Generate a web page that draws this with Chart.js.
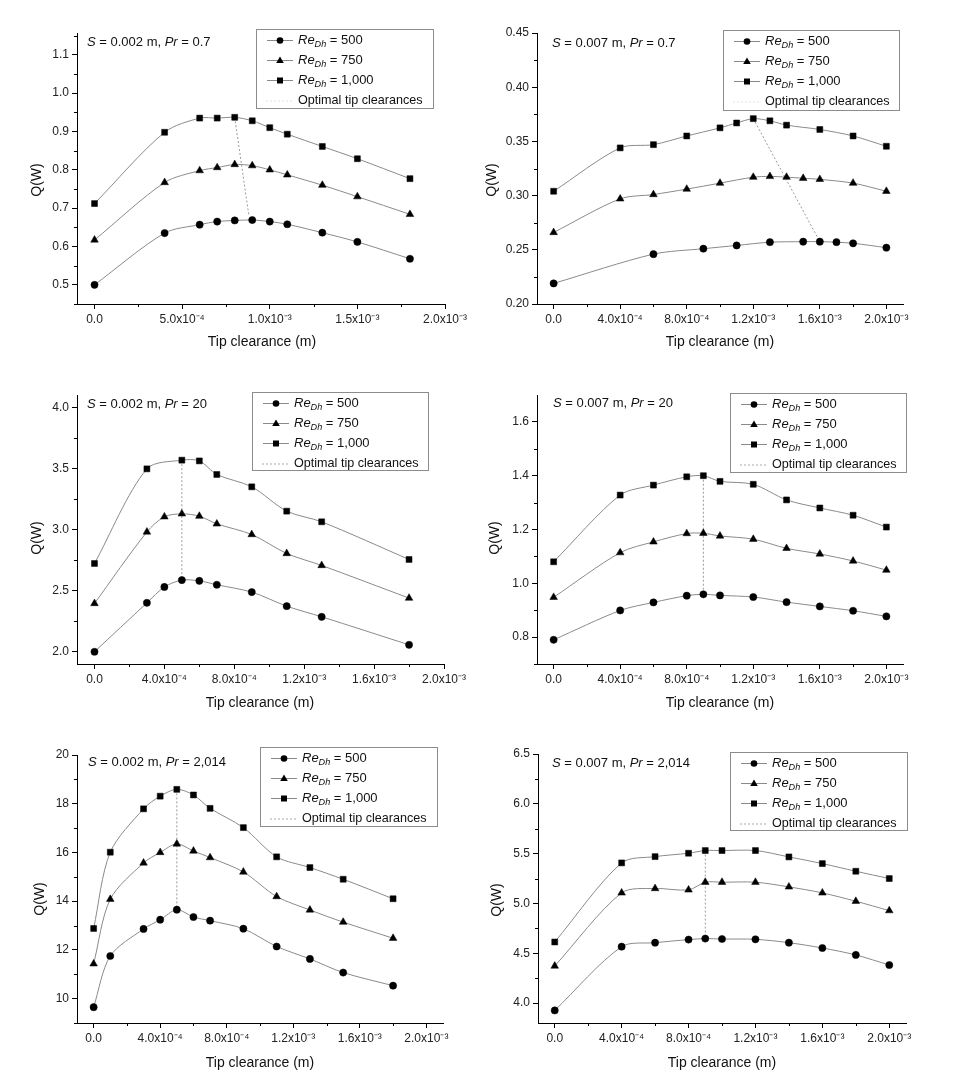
<!DOCTYPE html>
<html><head><meta charset="utf-8">
<script src="https://cdn.jsdelivr.net/npm/chart.js@4/dist/chart.umd.min.js"></script>
<style>
html,body{margin:0;padding:0;background:#fff;}
body{width:969px;height:1078px;position:relative;overflow:hidden;}
canvas{position:absolute;}
</style>
</head><body>
<canvas id="c1"></canvas><canvas id="c2"></canvas><canvas id="c3"></canvas>
<canvas id="c4"></canvas><canvas id="c5"></canvas><canvas id="c6"></canvas>
<script>
// ---------- DATA ----------
const seriesNames = ["500", "750", "1,000"];
const optimalLabel = "Optimal tip clearances";

// Panel 1: S = 0.002 m, Pr = 0.7
const p1X = [0, 0.0004, 0.0006, 0.0007, 0.0008, 0.0009, 0.0010, 0.0011, 0.0013, 0.0015, 0.0018];
const p1Q500 = [0.500, 0.635, 0.657, 0.665, 0.668, 0.669, 0.665, 0.658, 0.636, 0.612, 0.568];
const p1Q750 = [0.617, 0.767, 0.798, 0.806, 0.814, 0.811, 0.800, 0.787, 0.760, 0.730, 0.684];
const p1Q1000 = [0.712, 0.898, 0.935, 0.935, 0.937, 0.928, 0.910, 0.893, 0.861, 0.829, 0.777];
const p1OptX = [0.0008, 0.00088];
const p1OptY = [0.937, 0.683];

// Panel 2: S = 0.007 m, Pr = 0.7
const p2X500 = [0, 0.0006, 0.0009, 0.0011, 0.0013, 0.0015, 0.0016, 0.0017, 0.0018, 0.0020];
const p2Q500 = [0.219, 0.246, 0.251, 0.254, 0.257, 0.2575, 0.2575, 0.257, 0.256, 0.252];
const p2X750 = [0, 0.0004, 0.0006, 0.0008, 0.0010, 0.0012, 0.0013, 0.0014, 0.0015, 0.0016, 0.0018, 0.0020];
const p2Q750 = [0.266, 0.297, 0.301, 0.306, 0.3115, 0.317, 0.3177, 0.317, 0.316, 0.315, 0.3115, 0.304];
const p2X1000 = [0, 0.0004, 0.0006, 0.0008, 0.0010, 0.0011, 0.0012, 0.0013, 0.0014, 0.0016, 0.0018, 0.0020];
const p2Q1000 = [0.304, 0.344, 0.347, 0.355, 0.3625, 0.367, 0.371, 0.369, 0.365, 0.361, 0.355, 0.3455];
const p2OptX = [0.0012, 0.0016];
const p2OptY = [0.371, 0.2575];

// Panel 3: S = 0.002 m, Pr = 20
const p3X = [0, 0.0003, 0.0004, 0.0005, 0.0006, 0.0007, 0.0009, 0.0011, 0.0013, 0.0018];
const p3Q500 = [2.00, 2.40, 2.53, 2.586, 2.58, 2.548, 2.488, 2.373, 2.286, 2.057];
const p3Q750 = [2.395, 2.98, 3.104, 3.128, 3.109, 3.046, 2.959, 2.804, 2.706, 2.439];
const p3X1000 = [0, 0.0003, 0.0005, 0.0006, 0.0007, 0.0009, 0.0011, 0.0013, 0.0018];
const p3Q1000 = [2.722, 3.496, 3.567, 3.561, 3.450, 3.349, 3.15, 3.063, 2.755];
const p3OptX = [0.0005, 0.0005];
const p3OptY = [3.567, 2.586];

// Panel 4: S = 0.007 m, Pr = 20
const p4X = [0, 0.0004, 0.0006, 0.0008, 0.0009, 0.0010, 0.0012, 0.0014, 0.0016, 0.0018, 0.0020];
const p4Q500 = [0.790, 0.899, 0.929, 0.954, 0.959, 0.955, 0.949, 0.930, 0.914, 0.898, 0.877];
const p4Q750 = [0.948, 1.114, 1.154, 1.185, 1.186, 1.176, 1.164, 1.130, 1.109, 1.083, 1.049];
const p4Q1000 = [1.080, 1.328, 1.365, 1.396, 1.400, 1.379, 1.368, 1.310, 1.280, 1.253, 1.209];
const p4OptX = [0.0009, 0.0009];
const p4OptY = [1.400, 0.959];

// Panel 5: S = 0.002 m, Pr = 2,014
const p5X = [0, 0.0001, 0.0003, 0.0004, 0.0005, 0.0006, 0.0007, 0.0009, 0.0011, 0.0013, 0.0015, 0.0018];
const p5Q500 = [9.65, 11.75, 12.86, 13.24, 13.65, 13.35, 13.20, 12.87, 12.14, 11.63, 11.07, 10.53];
const p5Q750 = [11.43, 14.08, 15.57, 16.00, 16.35, 16.06, 15.79, 15.20, 14.19, 13.64, 13.14, 12.48];
const p5Q1000 = [12.88, 16.01, 17.79, 18.31, 18.59, 18.36, 17.81, 17.02, 15.82, 15.38, 14.90, 14.10];
const p5OptX = [0.0005, 0.0005];
const p5OptY = [18.59, 13.65];

// Panel 6: S = 0.007 m, Pr = 2,014
const p6X = [0, 0.0004, 0.0006, 0.0008, 0.0009, 0.0010, 0.0012, 0.0014, 0.0016, 0.0018, 0.0020];
const p6Q500 = [3.926, 4.566, 4.606, 4.637, 4.647, 4.643, 4.640, 4.606, 4.553, 4.483, 4.382];
const p6Q750 = [4.372, 5.106, 5.150, 5.136, 5.213, 5.213, 5.213, 5.166, 5.106, 5.022, 4.928];
const p6Q1000 = [4.613, 5.407, 5.470, 5.504, 5.531, 5.531, 5.531, 5.467, 5.400, 5.323, 5.250];
const p6OptX = [0.0009, 0.0009];
const p6OptY = [5.531, 4.647];

// Tick values and labels
const xTicksA = [0, 0.0005, 0.0010, 0.0015, 0.0020];
const xLabelsA = ["0.0", "5.0x10⁻⁴", "1.0x10⁻³", "1.5x10⁻³", "2.0x10⁻³"];
const xTicksB = [0, 0.0004, 0.0008, 0.0012, 0.0016, 0.0020];
const xLabelsB = ["0.0", "4.0x10⁻⁴", "8.0x10⁻⁴", "1.2x10⁻³", "1.6x10⁻³", "2.0x10⁻³"];
const y1Ticks = [0.5, 0.6, 0.7, 0.8, 0.9, 1.0, 1.1];
const y1Labels = ["0.5", "0.6", "0.7", "0.8", "0.9", "1.0", "1.1"];
const y2Ticks = [0.20, 0.25, 0.30, 0.35, 0.40, 0.45];
const y2Labels = ["0.20", "0.25", "0.30", "0.35", "0.40", "0.45"];
const y3Ticks = [2.0, 2.5, 3.0, 3.5, 4.0];
const y3Labels = ["2.0", "2.5", "3.0", "3.5", "4.0"];
const y4Ticks = [0.8, 1.0, 1.2, 1.4, 1.6];
const y4Labels = ["0.8", "1.0", "1.2", "1.4", "1.6"];
const y5Ticks = [10, 12, 14, 16, 18, 20];
const y5Labels = ["10", "12", "14", "16", "18", "20"];
const y6Ticks = [4.0, 4.5, 5.0, 5.5, 6.0, 6.5];
const y6Labels = ["4.0", "4.5", "5.0", "5.5", "6.0", "6.5"];

// ---------- RENDERING ----------
const FONT = '"Liberation Sans", Arial, Helvetica, sans-serif';
const LINE_COLOR = '#8a8a8a';
const STYLES = ['circle', 'triangle', 'rect'];
const RADII = [3.6, 4.4, 4.2];
const XH = 30, YW = 45;

function pts(xs, ys) { return xs.map((x, i) => ({x: x, y: ys[i]})); }

function drawMarker(ctx, style, x, y) {
  ctx.fillStyle = '#000';
  ctx.beginPath();
  if (style === 'circle') { ctx.arc(x, y, 3.3, 0, Math.PI * 2); }
  else if (style === 'triangle') { ctx.moveTo(x, y - 4); ctx.lineTo(x + 3.8, y + 2.6); ctx.lineTo(x - 3.8, y + 2.6); ctx.closePath(); }
  else { ctx.rect(x - 3, y - 3, 6, 6); }
  ctx.fill();
}

function drawRuns(ctx, runs, x, y, size) {
  ctx.textBaseline = 'middle';
  ctx.textAlign = 'left';
  for (const r of runs) {
    const sz = r.sub ? size * 0.7 : size;
    ctx.font = (r.i ? 'italic ' : '') + sz + 'px ' + FONT;
    ctx.fillText(r.t, x, y + (r.sub ? size * 0.33 : 0));
    x += ctx.measureText(r.t).width;
  }
}

function makePanel(cfg) {
  const cv = document.getElementById(cfg.id);
  const [cx, cy, cw, ch] = cfg.cell;
  cv.style.left = cx + 'px'; cv.style.top = cy + 'px';
  cv.width = cw; cv.height = ch;
  const [l, t, r, b] = cfg.plot;
  const padding = {left: l - cx - YW, top: t - cy, right: cx + cw - r, bottom: cy + ch - b - XH};

  const datasets = cfg.series.map((s, i) => ({
    data: pts(s[0], s[1]), showLine: true, borderColor: LINE_COLOR, borderWidth: 1,
    tension: 0.3, pointStyle: STYLES[i], pointRadius: RADII[i], pointBackgroundColor: '#000',
    pointBorderColor: '#000', pointBorderWidth: 0.5, clip: false
  }));
  datasets.push({
    data: pts(cfg.opt[0], cfg.opt[1]), showLine: true, borderColor: '#9a9a9a', borderWidth: 1,
    borderDash: [2, 2], pointRadius: 0, tension: 0
  });

  const decor = {
    id: 'decor',
    afterDraw(chart) {
      const ctx = chart.ctx;
      const xs = chart.scales.x, ys = chart.scales.y;
      ctx.save();
      // minor ticks
      ctx.strokeStyle = '#000'; ctx.lineWidth = 1;
      for (const v of cfg.xMinor) {
        const px = Math.round(xs.getPixelForValue(v)) + 0.5;
        ctx.beginPath(); ctx.moveTo(px, xs.top); ctx.lineTo(px, xs.top + 3); ctx.stroke();
      }
      for (const v of cfg.yMinor) {
        const py = Math.round(ys.getPixelForValue(v)) + 0.5;
        ctx.beginPath(); ctx.moveTo(ys.right - 3, py); ctx.lineTo(ys.right, py); ctx.stroke();
      }
      // axis titles
      ctx.fillStyle = '#111';
      ctx.font = '14px ' + FONT;
      ctx.textAlign = 'center'; ctx.textBaseline = 'middle';
      ctx.save();
      ctx.translate(cfg.yTitle[0] - cx, cfg.yTitle[1] - cy);
      ctx.rotate(-Math.PI / 2);
      ctx.fillText('Q(W)', 0, 0);
      ctx.restore();
      ctx.fillText('Tip clearance (m)', cfg.xTitle[0] - cx, cfg.xTitle[1] - cy);
      // annotation
      drawRuns(ctx, [{t: 'S', i: true}, {t: ' = ' + cfg.S + ' m, '}, {t: 'Pr', i: true}, {t: ' = ' + cfg.Pr}],
        cfg.note[0] - cx, cfg.note[1] - cy, 13);
      // legend
      const [bl, bt, br, bb] = cfg.legend;
      const lx = bl - cx, ly = bt - cy;
      ctx.strokeStyle = '#8c8c8c'; ctx.lineWidth = 1;
      ctx.strokeRect(lx + 0.5, ly + 0.5, br - bl, bb - bt);
      for (let i = 0; i < 4; i++) {
        const ry = ly + 11.5 + i * 20;
        const mx = lx + 24;
        if (i < 3) {
          ctx.strokeStyle = LINE_COLOR; ctx.setLineDash([]);
          ctx.beginPath(); ctx.moveTo(mx - 13, ry); ctx.lineTo(mx + 13, ry); ctx.stroke();
          drawMarker(ctx, STYLES[i], mx, ry);
          ctx.fillStyle = '#111';
          drawRuns(ctx, [{t: 'Re', i: true}, {t: 'Dh', i: true, sub: true}, {t: ' = ' + seriesNames[i]}], lx + 42, ry, 13);
        } else {
          ctx.strokeStyle = cfg.optLegendColor; ctx.setLineDash([2, 2]);
          ctx.beginPath(); ctx.moveTo(mx - 14, ry + 0.5); ctx.lineTo(mx + 14, ry + 0.5); ctx.stroke();
          ctx.setLineDash([]);
          ctx.fillStyle = '#111';
          drawRuns(ctx, [{t: optimalLabel}], lx + 42, ry, 12.6);
        }
      }
      ctx.restore();
    }
  };

  const tickFont = {family: FONT, size: 12};
  new Chart(cv, {
    type: 'scatter',
    data: {datasets: datasets},
    options: {
      responsive: false, animation: false, events: [],
      layout: {padding: padding},
      plugins: {legend: {display: false}, tooltip: {enabled: false}, title: {display: false}},
      scales: {
        x: {
          type: 'linear', min: cfg.xRange[0], max: cfg.xRange[1],
          afterBuildTicks: (s) => { s.ticks = cfg.xTicks.map(v => ({value: v})); },
          afterFit: (s) => { s.height = XH; },
          ticks: {callback: (v, i) => cfg.xLabels[i], font: tickFont, color: '#222', padding: 3, maxRotation: 0, autoSkip: false},
          grid: {display: true, drawOnChartArea: false, drawTicks: true, tickLength: 5, color: '#000', lineWidth: 1},
          border: {display: true, color: '#000', width: 1}
        },
        y: {
          type: 'linear', min: cfg.yRange[0], max: cfg.yRange[1],
          afterBuildTicks: (s) => { s.ticks = cfg.yTicks.map(v => ({value: v})); },
          afterFit: (s) => { s.width = YW; },
          ticks: {callback: (v, i) => cfg.yLabels[i], font: tickFont, color: '#222', padding: 3, autoSkip: false},
          grid: {display: true, drawOnChartArea: false, drawTicks: true, tickLength: 5, color: '#000', lineWidth: 1},
          border: {display: true, color: '#000', width: 1}
        }
      }
    },
    plugins: [decor]
  });
}

function mids(ticks, lo, hi) {
  const out = [];
  for (let i = 0; i < ticks.length - 1; i++) out.push((ticks[i] + ticks[i + 1]) / 2);
  const step = ticks[1] - ticks[0];
  if (ticks[0] - step / 2 >= lo) out.push(ticks[0] - step / 2);
  if (ticks[ticks.length - 1] + step / 2 <= hi) out.push(ticks[ticks.length - 1] + step / 2);
  return out;
}

const panels = [
  {id: 'c1', cell: [0, 0, 480, 350], plot: [77, 33, 445, 304], xRange: [-0.0001, 0.0020], yRange: [0.45, 1.157],
   xTicks: xTicksA, xLabels: xLabelsA, yTicks: y1Ticks, yLabels: y1Labels,
   series: [[p1X, p1Q500], [p1X, p1Q750], [p1X, p1Q1000]], opt: [p1OptX, p1OptY],
   S: '0.002', Pr: '0.7', note: [87, 42], legend: [256, 29, 433, 108], yTitle: [37, 180], xTitle: [262, 342], optLegendColor: '#e4e4e4'},
  {id: 'c2', cell: [480, 0, 489, 350], plot: [537, 33, 903, 304], xRange: [-0.0001, 0.0021], yRange: [0.20, 0.45],
   xTicks: xTicksB, xLabels: xLabelsB, yTicks: y2Ticks, yLabels: y2Labels,
   series: [[p2X500, p2Q500], [p2X750, p2Q750], [p2X1000, p2Q1000]], opt: [p2OptX, p2OptY],
   S: '0.007', Pr: '0.7', note: [552, 43], legend: [723, 30, 899, 110], yTitle: [492, 180], xTitle: [720, 342], optLegendColor: '#e4e4e4'},
  {id: 'c3', cell: [0, 350, 480, 360], plot: [77, 395, 444, 664], xRange: [-0.0001, 0.0020], yRange: [1.9, 4.1],
   xTicks: xTicksB, xLabels: xLabelsB, yTicks: y3Ticks, yLabels: y3Labels,
   series: [[p3X, p3Q500], [p3X, p3Q750], [p3X1000, p3Q1000]], opt: [p3OptX, p3OptY],
   S: '0.002', Pr: '20', note: [87, 404], legend: [252, 392, 428, 470], yTitle: [37, 538], xTitle: [260, 703], optLegendColor: '#aaaaaa'},
  {id: 'c4', cell: [480, 350, 489, 360], plot: [537, 395, 903, 664], xRange: [-0.0001, 0.0021], yRange: [0.7, 1.7],
   xTicks: xTicksB, xLabels: xLabelsB, yTicks: y4Ticks, yLabels: y4Labels,
   series: [[p4X, p4Q500], [p4X, p4Q750], [p4X, p4Q1000]], opt: [p4OptX, p4OptY],
   S: '0.007', Pr: '20', note: [553, 403], legend: [730, 393, 906, 472], yTitle: [495, 538], xTitle: [720, 703], optLegendColor: '#aaaaaa'},
  {id: 'c5', cell: [0, 710, 480, 368], plot: [77, 755, 443, 1023], xRange: [-0.0001, 0.0021], yRange: [9, 20],
   xTicks: xTicksB, xLabels: xLabelsB, yTicks: y5Ticks, yLabels: y5Labels,
   series: [[p5X, p5Q500], [p5X, p5Q750], [p5X, p5Q1000]], opt: [p5OptX, p5OptY],
   S: '0.002', Pr: '2,014', note: [88, 762], legend: [260, 747, 437, 826], yTitle: [40, 899], xTitle: [260, 1063], optLegendColor: '#aaaaaa'},
  {id: 'c6', cell: [480, 710, 489, 368], plot: [538, 754, 906, 1023], xRange: [-0.0001, 0.0021], yRange: [3.8, 6.5],
   xTicks: xTicksB, xLabels: xLabelsB, yTicks: y6Ticks, yLabels: y6Labels,
   series: [[p6X, p6Q500], [p6X, p6Q750], [p6X, p6Q1000]], opt: [p6OptX, p6OptY],
   S: '0.007', Pr: '2,014', note: [552, 763], legend: [730, 752, 907, 830], yTitle: [497, 900], xTitle: [722, 1063], optLegendColor: '#aaaaaa'}
];

for (const p of panels) {
  p.xMinor = mids(p.xTicks, p.xRange[0], p.xRange[1]);
  p.yMinor = mids(p.yTicks, p.yRange[0], p.yRange[1]);
  makePanel(p);
}
</script>
</body></html>
